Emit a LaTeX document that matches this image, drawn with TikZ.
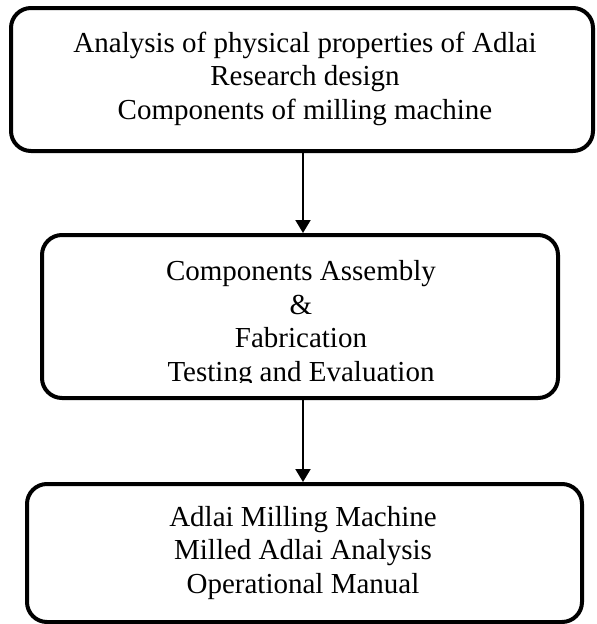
\documentclass[tikz,border=0pt]{standalone}
\usepackage{fontspec}
\setmainfont{Liberation Serif}
\usetikzlibrary{arrows.meta}
\begin{document}
\begin{tikzpicture}[x=1pt,y=1pt,
  box/.style={draw=black, line width=4pt, rounded corners=20pt, inner sep=0pt, outer sep=0pt},
  txt/.style={align=center, inner sep=0pt, font=\fontsize{29}{33.5}\selectfont, anchor=base},
  arr/.style={line width=2pt, shorten >=2pt, -{Triangle[width=15pt,length=13pt]}}]
\useasboundingbox (0,0) rectangle (597,-624);
\node[box, minimum width=582pt, minimum height=143pt] (b1) at (302,-79.5) {};
\node[box, minimum width=516pt, minimum height=163pt] (b2) at (300,-316.5) {};
\node[box, minimum width=555pt, minimum height=138pt] (b3) at (304.5,-553) {};
\node[txt] (t1) at (305,-119) {Analysis of physical properties of Adlai\\Research design\\Components of milling machine};
\begin{scope}
  \clip (0,-240) rectangle (597,-382);
  \node[txt] (t2) at (301,-381) {Components Assembly\\\&\\Fabrication\\Testing and Evaluation};
\end{scope}
\node[txt] (t3) at (303,-593) {Adlai Milling Machine\\Milled Adlai Analysis\\Operational Manual};
\coordinate (ax) at (303,0);
\draw[arr] (b1.south -| ax) -- (b2.north -| ax);
\draw[arr] (b2.south -| ax) -- (b3.north -| ax);
\end{tikzpicture}
\end{document}
